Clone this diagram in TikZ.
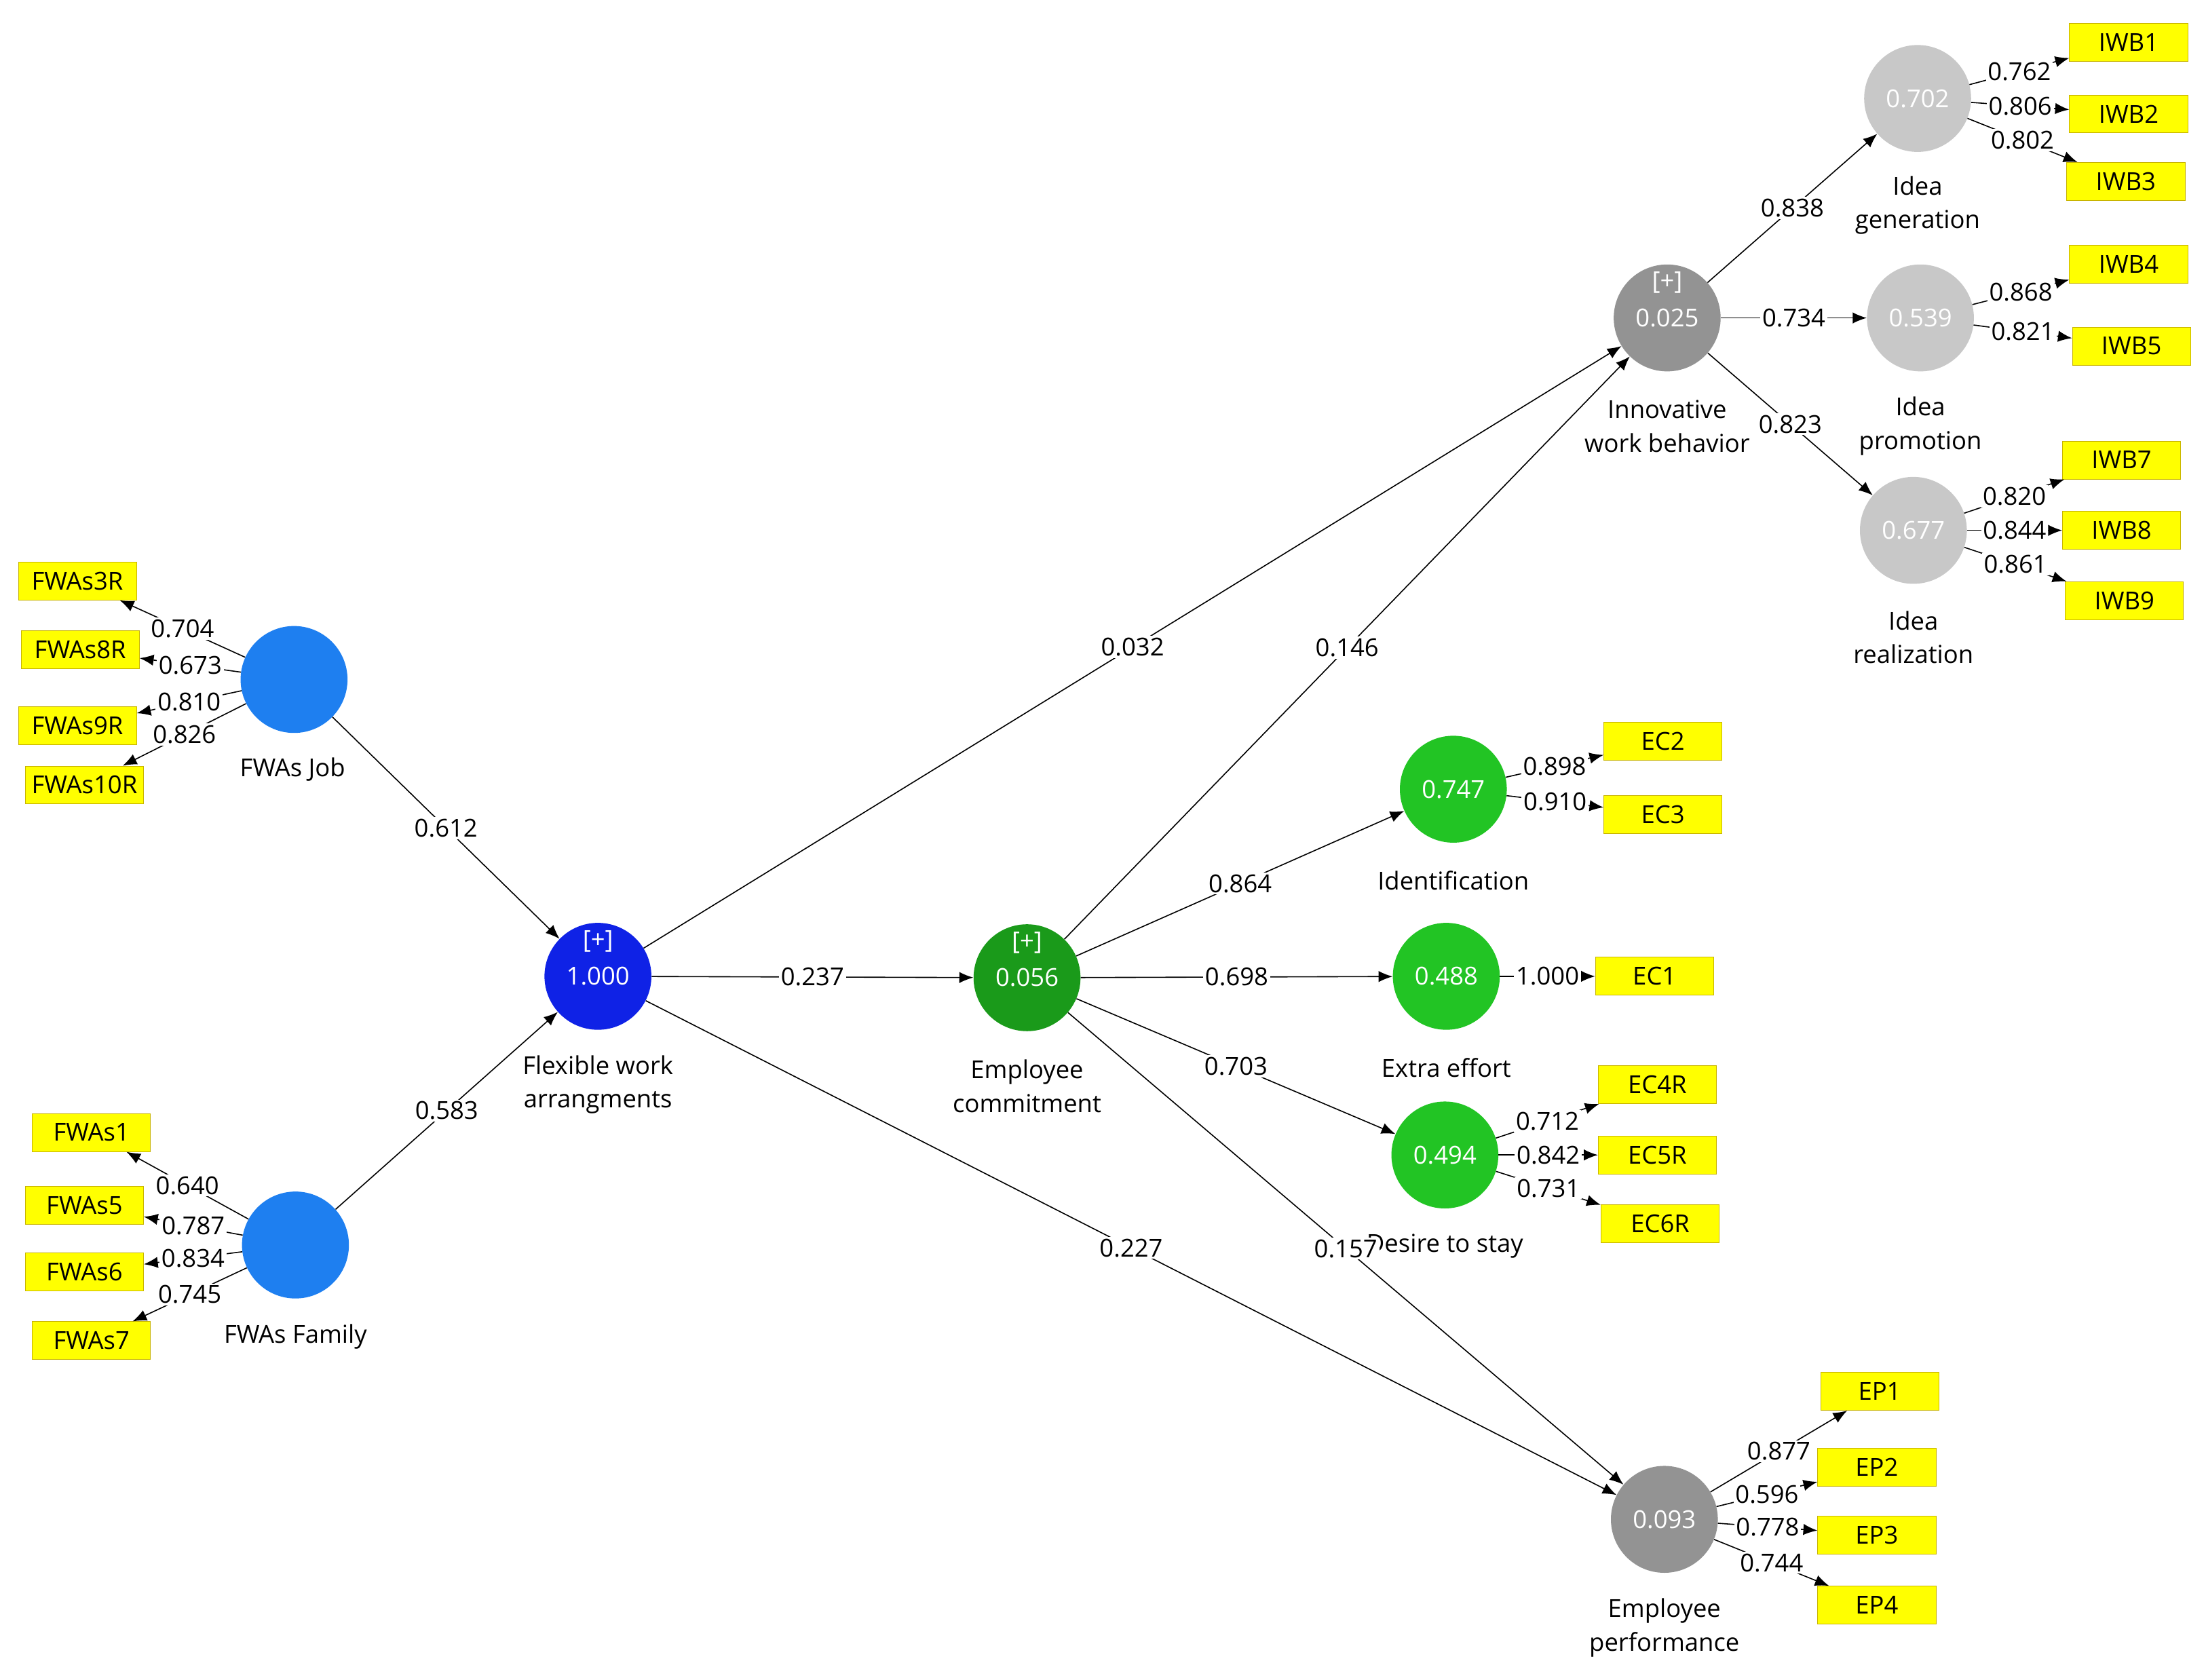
\documentclass[tikz,border=0pt]{standalone}
\usepackage{fontspec}
\setmainfont{Open Sans}
\usetikzlibrary{arrows.meta}
\definecolor{fwa}{HTML}{1E7FF0}
\definecolor{flex}{HTML}{0F22E6}
\definecolor{ecd}{HTML}{1A9A1A}
\definecolor{ecl}{HTML}{22C424}
\definecolor{gr}{HTML}{939393}
\definecolor{lg}{HTML}{C8C8C8}
\definecolor{yb}{HTML}{FFFF00}
\definecolor{yd}{HTML}{C8B400}
\begin{document}
\begin{tikzpicture}[x=0.05cm,y=-0.05cm,
  every node/.style={font=\fontsize{25}{34}\selectfont},
  lv/.style={circle,minimum size=3.8cm,inner sep=0pt,text=white},
  ind/.style={draw=yd,line width=0.6pt,fill=yb,minimum width=4.2cm,minimum height=1.35cm,inner sep=0pt},
  lab/.style={align=center,font=\fontsize{25}{34}\selectfont},
  pth/.style={line width=1.1pt,-{Latex[length=0.5cm,width=0.4cm]}},
  num/.style={fill=white,inner sep=2pt}]
\useasboundingbox (0,0) rectangle (1568,1194);
% latent variables
\node[lv,fill=fwa] (job) at (209,483) {};
\node[lv,fill=fwa] (fam) at (210,885) {};
\node[lv,fill=flex] (flx) at (425,694) {};
\node[lv,fill=ecd] (ec) at (730,695) {};
\node[lv,fill=gr] (iwb) at (1185,226) {};
\node[lv,fill=lg] (gen) at (1363,70) {0.702};
\node[lv,fill=lg] (pro) at (1365,226) {0.539};
\node[lv,fill=lg] (rea) at (1360,377) {0.677};
\node[lv,fill=ecl] (idn) at (1033,561) {0.747};
\node[lv,fill=ecl] (ext) at (1028,694) {0.488};
\node[lv,fill=ecl] (des) at (1027,821) {0.494};
\node[lv,fill=gr] (ep) at (1183,1080) {0.093};
\node[text=white] (flxa) at (425,669) {[+]};
\node[text=white] (flxb) at (425,694) {1.000};
\node[text=white] (eca) at (730,670) {[+]};
\node[text=white] (ecb) at (730,695) {0.056};
\node[text=white] (iwba) at (1185,201) {[+]};
\node[text=white] (iwbb) at (1185,226) {0.025};
% labels
\node[lab] (ljob) at (208,547) {FWAs Job};
\node[lab] (lfam) at (210,950) {FWAs Family};
\node[lab] (lflx) at (425,771) {Flexible work\\arrangments};
\node[lab] (lec) at (730,772) {Employee\\commitment};
\node[lab] (liwb) at (1185,303) {Innovative\\work behavior};
\node[lab] (lgen) at (1363,146) {Idea\\generation};
\node[lab] (lpro) at (1365,303) {Idea\\promotion};
\node[lab] (lrea) at (1360,453) {Idea\\realization};
\node[lab] (lidn) at (1033,626) {Identification};
\node[lab] (lext) at (1028,759) {Extra effort};
\node[lab] (ldes) at (1027,886) {Desire to stay};
\node[lab] (lep) at (1183,1157) {Employee\\performance};
% indicators
\foreach \n/\x/\y in {FWAs3R/55/413,FWAs8R/57/462,FWAs9R/55/516,FWAs10R/60/558,
  FWAs1/65/805,FWAs5/60/857,FWAs6/60/904,FWAs7/65/953,
  IWB1/1513/30,IWB2/1513/81,IWB3/1511/129,IWB4/1513/188,IWB5/1515/246,
  IWB7/1508/327,IWB8/1508/377,IWB9/1510/427,
  EC2/1182/527,EC3/1182/579,EC1/1176/694,EC4R/1178/771,EC5R/1178/821,EC6R/1180/870,
  EP1/1336/989,EP2/1334/1043,EP3/1334/1091,EP4/1334/1141}
  \node[ind] (\n) at (\x,\y) {\n};
% loadings
\foreach \a/\b/\v in {job/FWAs3R/0.704,job/FWAs8R/0.673,job/FWAs9R/0.810,job/FWAs10R/0.826,
  fam/FWAs1/0.640,fam/FWAs5/0.787,fam/FWAs6/0.834,fam/FWAs7/0.745,
  gen/IWB1/0.762,gen/IWB2/0.806,gen/IWB3/0.802,pro/IWB4/0.868,pro/IWB5/0.821,
  rea/IWB7/0.820,rea/IWB8/0.844,rea/IWB9/0.861,
  idn/EC2/0.898,idn/EC3/0.910,ext/EC1/1.000,des/EC4R/0.712,des/EC5R/0.842,des/EC6R/0.731,
  ep/EP1/0.877,ep/EP2/0.596,ep/EP3/0.778,ep/EP4/0.744}
  \draw[pth] (\a) -- (\b) node[num,midway]{\v};
% structural paths
\foreach \a/\b/\v in {job/flx/0.612,fam/flx/0.583,flx/ec/0.237,flx/iwb/0.032,flx/ep/0.227,
  ec/iwb/0.146,ec/idn/0.864,ec/ext/0.698,ec/des/0.703,ec/ep/0.157,
  iwb/gen/0.838,iwb/pro/0.734,iwb/rea/0.823}
  \draw[pth] (\a) -- (\b) node[num,midway]{\v};
\end{tikzpicture}
\end{document}
